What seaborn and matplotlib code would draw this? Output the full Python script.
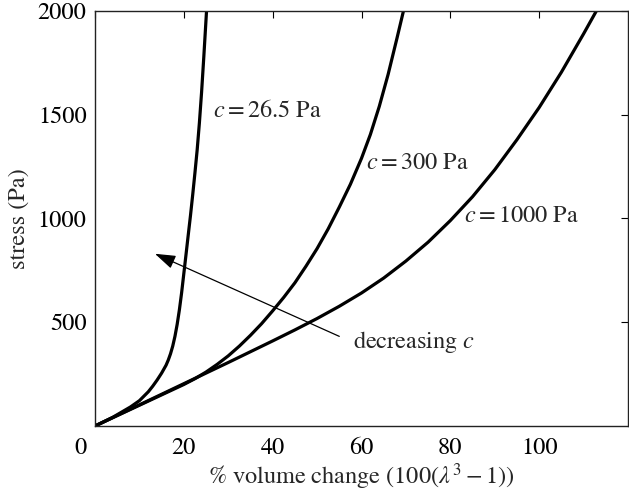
import numpy as np
import pandas as pd
import matplotlib
matplotlib.use('Agg')
import matplotlib.pyplot as plt
import matplotlib.transforms as mtransforms
import seaborn as sns

# curves (strain in %, stress in Pa)
strain_c26 = [0, 4, 8, 10, 12, 13, 14, 15, 16, 16.5, 17, 17.5, 18, 18.5, 19, 19.5, 20,
              20.5, 21, 21.5, 22, 22.5, 23, 23.5, 24, 24.5, 25, 25.3]
stress_c26 = [0, 42, 92, 122, 165, 192, 222, 255, 293, 318, 348, 385, 432, 490, 560, 642, 735,
              828, 922, 1015, 1115, 1220, 1330, 1460, 1610, 1780, 1960, 2070]

strain_c300 = [0, 10, 15, 20, 22.5, 25, 27.5, 30, 32.5, 35, 37.5, 40, 42.5, 45, 47.5,
               50, 52.5, 55, 57.5, 60, 62, 64, 66, 68, 69.5, 70]
stress_c300 = [0, 100, 150, 200, 228, 260, 297, 338, 385, 437, 493, 555, 620, 690, 770,
               855, 950, 1055, 1165, 1290, 1405, 1540, 1695, 1870, 2005, 2050]

strain_c1000 = [0, 5, 10, 15, 20, 25, 30, 35, 40, 45, 50, 55, 60, 65, 70, 75, 80,
                85, 90, 95, 100, 105, 110, 113, 113.5]
stress_c1000 = [0, 51, 102, 153, 204, 255, 306, 358, 410, 463, 518, 577, 641, 713, 795,
                886, 990, 1105, 1235, 1380, 1535, 1705, 1890, 2005, 2025]

labels = ['$c = 26.5$ Pa', '$c = 300$ Pa', '$c = 1000$ Pa']
label_pos = [(26.5, 1519), (61.1, 1267), (83.1, 1010)]

sns.set_style('white')
plt.rcParams['font.family'] = ['STIXGeneral', 'DejaVu Serif']
plt.rcParams['mathtext.fontset'] = 'stix'

fig = plt.figure(figsize=(6.29, 4.91), dpi=100)
ax = fig.add_axes([95 / 629, 1 - 426 / 491, 533 / 629, 415 / 491])

curves = [(strain_c26, stress_c26), (strain_c300, stress_c300), (strain_c1000, stress_c1000)]
for xs, ys in curves:
    df = pd.DataFrame({'strain': xs, 'stress': ys})
    sns.lineplot(data=df, x='strain', y='stress', ax=ax, color='black', lw=2.3,
                 sort=False, estimator=None)

for lab, (x, y) in zip(labels, label_pos):
    ax.text(x, y, lab, fontsize=17.5, va='center', ha='left')

ax.annotate('', xy=(13.5, 830), xytext=(55, 432),
            arrowprops=dict(arrowstyle='-|>,head_length=0.9,head_width=0.3',
                            color='black', lw=0.9, mutation_scale=14,
                            shrinkA=0, shrinkB=0))
ax.text(58, 403, 'decreasing $c$', fontsize=17.5, va='center', ha='left')

ax.set_xlim(0, 120)
ax.set_ylim(0, 2000)
ax.set_xticks([0, 20, 40, 60, 80, 100])
ax.set_yticks([500, 1000, 1500, 2000])
ax.tick_params(direction='in', length=5, width=0.8, top=True, right=True,
               labelsize=17.5, colors='black')
ax.tick_params(axis='x', pad=8)
ax.tick_params(axis='y', pad=6)
for s in ax.spines.values():
    s.set_color('#222222')
    s.set_linewidth(1.0)

# the "0" label sits left of its tick in the reference
lbl0 = ax.get_xticklabels()[0]
lbl0.set_transform(lbl0.get_transform() + mtransforms.ScaledTranslation(-15 / 100, 0, fig.dpi_scale_trans))

ax.set_xlabel(r'% volume change (100($\lambda^3 - 1$))', fontsize=17.5, labelpad=2)
ax.set_ylabel('stress (Pa)', fontsize=17.5, labelpad=6)

fig.savefig('out.png', dpi=100)
